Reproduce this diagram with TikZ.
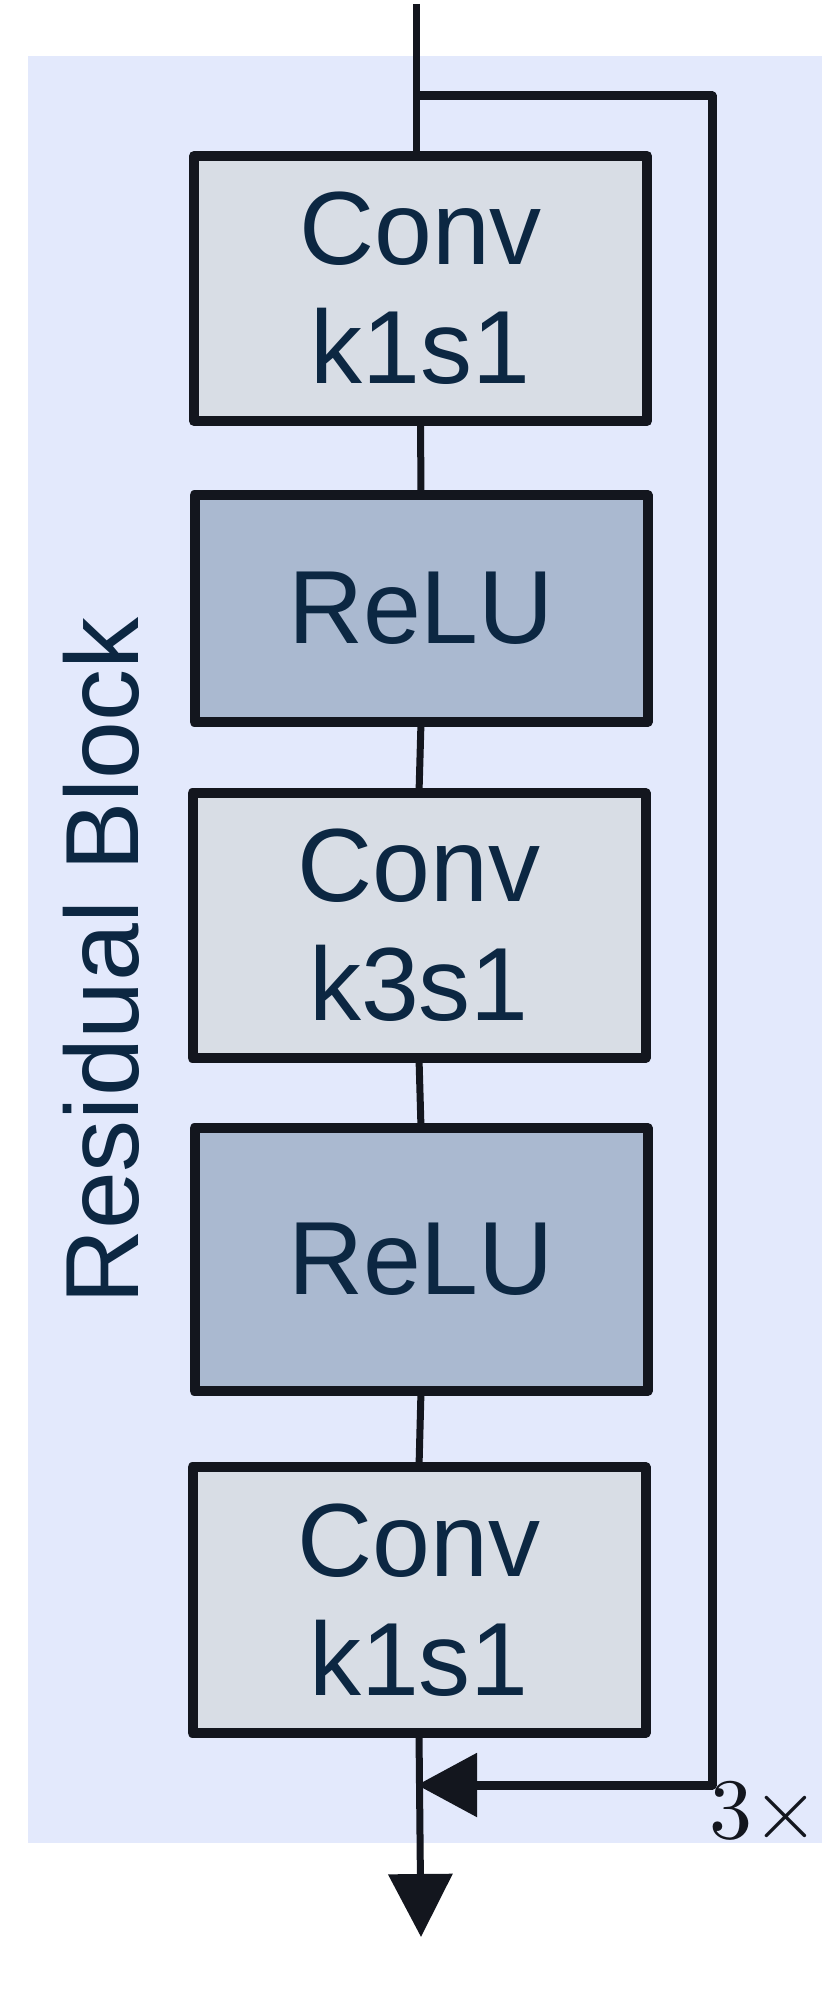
\documentclass[tikz,border=0pt]{standalone}
\usepackage{fontspec}
\usepackage{graphicx}
\setmainfont{Liberation Sans}
\usetikzlibrary{arrows.meta}
\definecolor{bgblue}{HTML}{E3E9FC}
\definecolor{convfill}{HTML}{D8DDE5}
\definecolor{relufill}{HTML}{AAB9D0}
\definecolor{linecol}{HTML}{13161E}
\definecolor{txtcol}{HTML}{0C2742}
\tikzset{
  layerbox/.style={draw=linecol, line width=10pt, line join=round, outer sep=0pt,
    minimum width=453pt, inner sep=0pt, align=center, text=txtcol,
    font=\fontsize{104}{119}\selectfont},
  convbox/.style={layerbox, fill=convfill},
  relubox/.style={layerbox, fill=relufill},
  mainline/.style={draw=linecol, line width=7pt},
  skipline/.style={draw=linecol, line width=9pt, line join=round},
}
\begin{document}
\begin{tikzpicture}[x=1pt,y=-1pt]
\useasboundingbox (0,0) rectangle (830,2007);
\fill[bgblue] (28,56) rectangle (822,1843);

\node[convbox, minimum height=265pt] (b1) at (420.5,288.5) {Conv\\k1s1};
\node[relubox, minimum height=227pt] (b2) at (421,608.5) {ReLU};
\node[convbox, minimum height=265pt] (b3) at (419,925.5) {Conv\\k3s1};
\node[relubox, minimum height=263pt] (b4) at (421,1259.5) {ReLU};
\node[convbox, minimum height=266pt] (b5) at (419,1600) {Conv\\k1s1};

\node[rotate=90, inner sep=0pt, text=txtcol, font=\fontsize{104}{119}\selectfont] (title) at (101,961) {Residual Block};
\node[anchor=west, inner sep=0pt, text=linecol] (times) at (709,1814) {\scalebox{8.6}{$3\times$}};

\coordinate (in) at (416,4);
\coordinate (br) at (416,96);
\coordinate (rc1) at (712,96);
\coordinate (rc2) at (712,1785);
\coordinate (merge) at (417,1785);
\coordinate (out) at (421,1937);

\draw[mainline] (in) -- (in |- b1.north);
\draw[mainline] (b1.south) -- (b2.north);
\draw[mainline] (b2.south) -- (b3.north);
\draw[mainline] (b3.south) -- (b4.north);
\draw[mainline] (b4.south) -- (b5.north);
\draw[mainline, -{Triangle[length=63pt,width=63pt]}] (b5.south) -- (out);
\draw[skipline, -{Triangle[length=60pt,width=62pt]}] (br) -- (rc1) -- (rc2) -- (merge);
\end{tikzpicture}
\end{document}
